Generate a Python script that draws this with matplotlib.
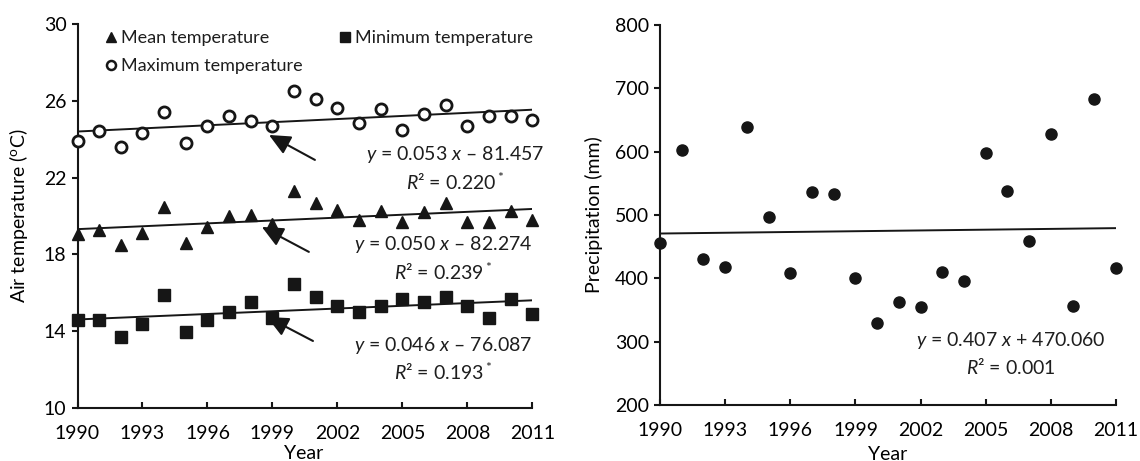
import numpy as np
import matplotlib
matplotlib.use('Agg')
import matplotlib.pyplot as plt
from matplotlib.lines import Line2D

plt.rcParams['font.family'] = ['Lato', 'DejaVu Sans']
plt.rcParams['mathtext.fontset'] = 'custom'
plt.rcParams['mathtext.rm'] = 'Lato'
plt.rcParams['mathtext.it'] = 'Lato:italic'
plt.rcParams['font.size'] = 14
plt.rcParams['text.color'] = '#1e1e1e'

years = np.arange(1990, 2012)
xtick_years = list(range(1990, 2012, 3))

t_max = [23.9, 24.4, 23.6, 24.3, 25.4, 23.8, 24.7, 25.2, 24.95, 24.7, 26.5,
         26.1, 25.6, 24.85, 25.57, 24.5, 25.3, 25.8, 24.7, 25.2, 25.2, 25.0]
t_mean = [19.06, 19.27, 18.5, 19.1, 20.45, 18.6, 19.45, 20.0, 20.05, 19.6, 21.3,
          20.7, 20.3, 19.8, 20.25, 19.7, 20.2, 20.7, 19.7, 19.7, 20.25, 19.8]
t_min = [14.6, 14.6, 13.7, 14.4, 15.9, 13.95, 14.6, 15.0, 15.5, 14.7, 16.45,
         15.8, 15.3, 15.0, 15.3, 15.7, 15.5, 15.8, 15.3, 14.7, 15.7, 14.9]
precip = [456, 603, 430, 418, 639, 497, 408, 536, 533, 400, 329,
          363, 355, 410, 396, 598, 538, 459, 628, 356, 683, 417]

eq_max = [r'$y$ = 0.053 $x$ – 81.457', r'$R$² = 0.220$^*$']
eq_mean = [r'$y$ = 0.050 $x$ – 82.274', r'$R$² = 0.239$^*$']
eq_min = [r'$y$ = 0.046 $x$ – 76.087', r'$R$² = 0.193$^*$']
eq_precip = [r'$y$ = 0.407 $x$ + 470.060', r'$R$² = 0.001']

ink = '#161616'


def style_axes(ax):
    for side in ['top', 'right']:
        ax.spines[side].set_visible(False)
    for side in ['left', 'bottom']:
        ax.spines[side].set_linewidth(1.5)
        ax.spines[side].set_color(ink)
    ax.tick_params(axis='x', direction='in', length=4, width=1.5, pad=12,
                   color=ink, labelsize=14)
    ax.tick_params(axis='y', direction='out', length=4, width=1.5, pad=4,
                   color=ink, labelsize=14)
    ax.set_xlim(1990, 2011)
    ax.set_xticks(xtick_years)


def trend(ax, xs, ys):
    k, b = np.polyfit(xs, ys, 1)
    ax.plot([xs[0], xs[-1]], [k * xs[0] + b, k * xs[-1] + b],
            color=ink, lw=1.4, zorder=2)


fig = plt.figure(figsize=(11.4, 4.61), dpi=100)
ax1 = fig.add_axes([0.068, 0.115, 0.399, 0.833])
ax2 = fig.add_axes([0.579, 0.1215, 0.4, 0.824])

# left panel: temperatures
mk = dict(linestyle='none', clip_on=False, zorder=3)
ax1.plot(years, t_max, marker='o', ms=8, mfc='white', mec=ink, mew=2, **mk)
ax1.plot(years, t_mean, marker='^', ms=9, color=ink, **mk)
ax1.plot(years, t_min, marker='s', ms=8.5, color=ink, **mk)
for series in [t_max, t_mean, t_min]:
    trend(ax1, years, series)

arrows = [((1998.84, 24.22), (2000.96, 22.92)),
          ((1998.51, 19.43), (2000.68, 18.13)),
          ((1998.75, 14.74), (2000.87, 13.49))]
for tip, tail in arrows:
    ax1.annotate('', xy=tip, xytext=tail,
                 arrowprops=dict(arrowstyle='-|>,head_length=1.3,head_width=0.6',
                                 color=ink, lw=1.5, mutation_scale=10,
                                 shrinkA=0, shrinkB=0))

for lines, xc, y1, y2 in [(eq_max, 2007.42, 23.18, 21.77),
                          (eq_mean, 2006.87, 18.49, 17.08),
                          (eq_min, 2006.87, 13.28, 11.88)]:
    ax1.text(xc, y1, lines[0], ha='center', va='center', fontsize=14)
    ax1.text(xc, y2, lines[1], ha='center', va='center', fontsize=14)

ax1.set_ylim(10, 30)
ax1.set_yticks([10, 14, 18, 22, 26, 30])
style_axes(ax1)
ax1.set_ylabel(r'Air temperature ($^{\rm o}$C)', fontsize=14)
ax1.yaxis.set_label_coords(-0.104, 0.5)
ax1.set_xlabel('Year', fontsize=14)
ax1.xaxis.set_label_coords(0.497, -0.097)

handles = [Line2D([], [], linestyle='none', marker='^', ms=7.5, color=ink),
           Line2D([], [], linestyle='none', marker='o', ms=6.5, mfc='white',
                  mec=ink, mew=1.8),
           Line2D([], [], linestyle='none', marker='s', ms=7, color=ink)]
labels = ['Mean temperature', 'Maximum temperature', 'Minimum temperature']
ax1.legend(handles, labels, ncol=2, loc='upper left',
           bbox_to_anchor=(0.04, 1.008), frameon=False, borderpad=0,
           handlelength=0.7, handletextpad=0.2, columnspacing=2.0,
           labelspacing=0.68, fontsize=13)

# right panel: precipitation
idx = np.arange(1, len(years) + 1)
ax2.plot(years, precip, marker='o', ms=8, color=ink, **mk)
k, b = np.polyfit(idx, precip, 1)
ax2.plot([years[0], years[-1]], [k * idx[0] + b, k * idx[-1] + b],
         color=ink, lw=1.4, zorder=2)
ax2.text(2006.15, 302.6, eq_precip[0], ha='center', va='center', fontsize=14)
ax2.text(2006.15, 260, eq_precip[1], ha='center', va='center', fontsize=14)

ax2.set_ylim(200, 800)
ax2.set_yticks(range(200, 801, 100))
style_axes(ax2)
ax2.set_ylabel('Precipitation (mm)', fontsize=14)
ax2.yaxis.set_label_coords(-0.125, 0.5)
ax2.set_xlabel('Year', fontsize=14)
ax2.xaxis.set_label_coords(0.5, -0.108)

fig.savefig('out.png', dpi=100)
